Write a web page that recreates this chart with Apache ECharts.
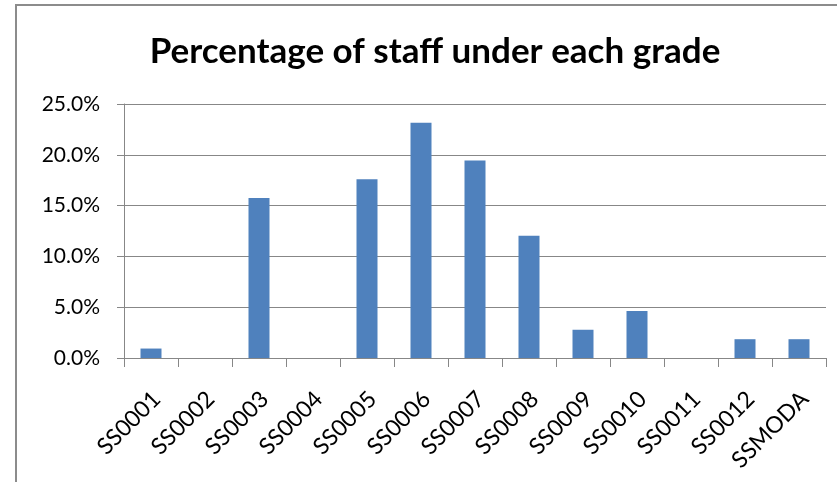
<!DOCTYPE html>
<html>
<head>
<meta charset="utf-8">
<script src="https://cdn.jsdelivr.net/npm/echarts@6/dist/echarts.min.js"></script>
<style>
  html, body { margin: 0; padding: 0; background: #fff; }
  #chart { width: 837px; height: 482px; }
</style>
</head>
<body>
<div id="chart"></div>
<script>
// Staff grades and the share of staff in each (percent)
const grades = ['SS0001', 'SS0002', 'SS0003', 'SS0004', 'SS0005', 'SS0006', 'SS0007',
                'SS0008', 'SS0009', 'SS0010', 'SS0011', 'SS0012', 'SSMODA'];
const staffPercent = [0.93, 0, 15.74, 0, 17.59, 23.15, 19.44, 12.04, 2.78, 4.63, 0, 1.85, 1.85];
const yTicks = [0, 5, 10, 15, 20, 25];

const chart = echarts.init(document.getElementById('chart'), null, { renderer: 'canvas' });
const font = 'Lato, "Open Sans", sans-serif';

chart.setOption({
  animation: false,
  backgroundColor: '#ffffff',
  title: {
    text: 'Percentage of staff under each grade',
    left: 430,
    textAlign: 'center',
    top: 29,
    textStyle: { fontFamily: font, fontWeight: 'bold', fontSize: 35, color: '#000' }
  },
  graphic: [{
    type: 'rect',
    shape: { x: 16, y: 5, width: 900, height: 600 },
    style: { fill: 'none', stroke: '#8c8c8c', lineWidth: 2 },
    silent: true
  }],
  grid: { left: 124, right: 11, top: 104, bottom: 124 },
  xAxis: {
    type: 'category',
    data: grades,
    axisLine: { lineStyle: { color: '#878787', width: 1 } },
    axisTick: { show: true, alignWithLabel: false, length: 9, lineStyle: { color: '#878787' } },
    axisLabel: {
      rotate: 45, margin: 43, interval: 0,
      padding: [0, -8, 0, 0],
      fontFamily: font, fontSize: 23, color: '#000'
    }
  },
  yAxis: {
    type: 'value',
    min: yTicks[0],
    max: yTicks[yTicks.length - 1],
    interval: 5,
    axisLine: { show: true, lineStyle: { color: '#878787', width: 1 } },
    axisTick: { show: true, length: 7, lineStyle: { color: '#878787' } },
    splitLine: { lineStyle: { color: '#878787', width: 1 } },
    axisLabel: {
      margin: 24,
      fontFamily: font, fontSize: 21, color: '#000',
      formatter: v => v.toFixed(1) + '%'
    }
  },
  series: [{
    type: 'bar',
    data: staffPercent,
    barWidth: 21,
    itemStyle: { color: '#4f81bd' }
  }]
});
</script>
</body>
</html>
